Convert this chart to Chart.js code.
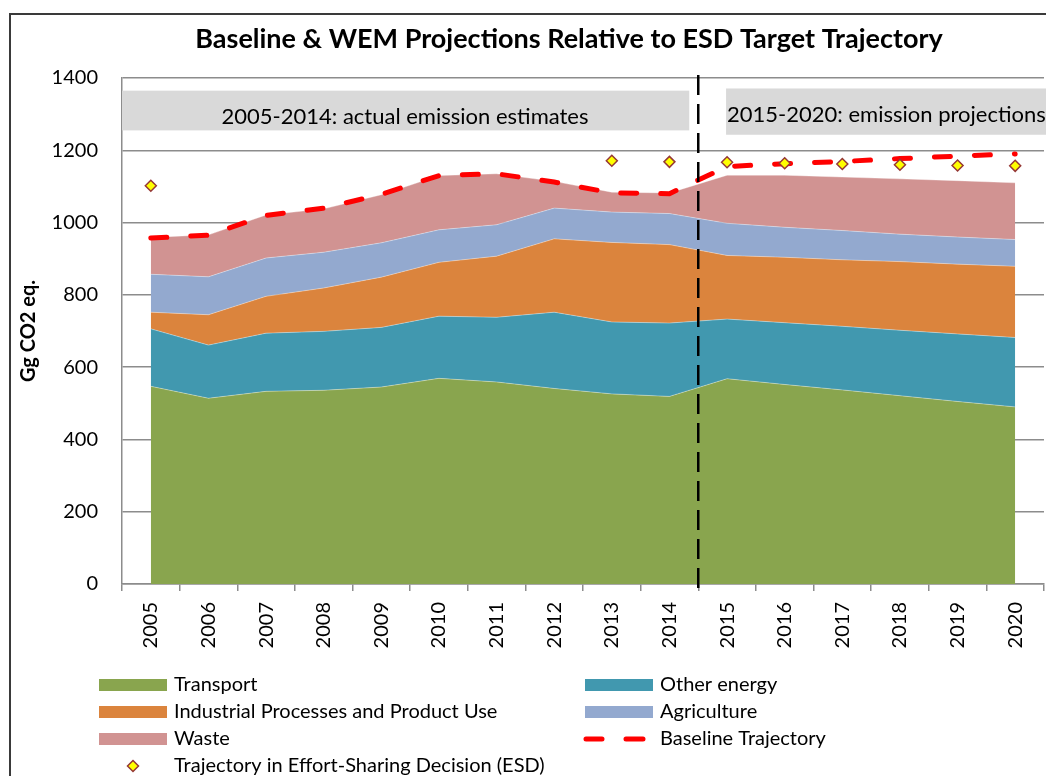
<!DOCTYPE html>
<html>
<head>
<meta charset="utf-8">
<script src="https://cdn.jsdelivr.net/npm/chart.js@4.4.1/dist/chart.umd.min.js"></script>
<style>
  html, body { margin: 0; padding: 0; background: #fff; overflow: hidden; }
  #wrap { width: 1046px; height: 776px; position: relative; }
</style>
</head>
<body>
<div id="wrap"><canvas id="chart"></canvas></div>
<script>
// --- data (Gg CO2 eq.) ---
const years = ['2005', '2006', '2007', '2008', '2009', '2010', '2011', '2012',
  '2013', '2014', '2015', '2016', '2017', '2018', '2019', '2020'];
const transport   = [547, 514, 533, 536, 545, 569, 559, 541, 526, 519, 568, 552, 537, 521, 505, 490];
const otherEnergy = [159, 147, 161, 163, 165, 172, 179, 211, 199, 203, 165, 171, 176, 181, 187, 192];
const industrial  = [46, 84, 102, 120, 139, 149, 169, 203, 220, 217, 176, 181, 184, 190, 193, 197];
const agriculture = [105, 105, 106, 99, 95, 90, 87, 85, 84, 86, 89, 83, 81, 76, 75, 74];
const waste       = [102, 116, 119, 120, 133, 150, 141, 74, 55, 57, 133, 144, 148, 153, 156, 157];
const baseline    = [957, 965, 1020, 1040, 1078, 1130, 1135, 1112, 1082, 1080, 1155, 1163, 1169, 1177, 1184, 1190];
const esdTarget   = [1102, null, null, null, null, null, null, null, 1171, 1168, 1167, 1164, 1162, 1160, 1158, 1157];
const yTicks      = [0, 200, 400, 600, 800, 1000, 1200, 1400];
const periodLabels = ['2005-2014: actual emission estimates', '2015-2020: emission projections'];
const chartTitle = 'Baseline & WEM Projections Relative to ESD Target Trajectory';

const FONT = 'Lato, "Noto Sans", sans-serif';
Chart.defaults.font.family = FONT;
Chart.defaults.color = '#000';

const GRID = '#8c8c8c';

function area(label, data, color, fill) {
  return {
    type: 'line', label, data, fill,
    backgroundColor: color, borderColor: 'rgba(255,255,255,0.35)', borderWidth: 1,
    pointRadius: 0, tension: 0, stack: 'sectors', order: 1,
  };
}

// fondo: marco exterior + título (centrado como en el original, algo a la derecha)
const framePlugin = {
  id: 'frame',
  beforeDraw(chart) {
    const ctx = chart.ctx;
    ctx.save();
    ctx.fillStyle = '#fff';
    ctx.fillRect(0, 0, chart.width, chart.height);
    ctx.strokeStyle = '#3a3a3a';
    ctx.lineWidth = 2;
    ctx.beginPath();
    ctx.moveTo(10, chart.height);
    ctx.lineTo(10, 14);
    ctx.lineTo(chart.width, 14);
    ctx.stroke();
    ctx.fillStyle = '#000';
    ctx.font = 'bold 27px ' + FONT;
    ctx.textAlign = 'center';
    ctx.textBaseline = 'middle';
    ctx.fillText(chartTitle, 569, 39);
    ctx.restore();
  },
};

// cajas grises de periodo + línea divisoria 2014/2015
const periodPlugin = {
  id: 'periods',
  beforeDatasetsDraw(chart) {
    const { ctx, chartArea, scales: { x, y } } = chart;
    const split = (x.getPixelForValue(9) + x.getPixelForValue(10)) / 2;
    ctx.save();
    ctx.fillStyle = '#d9d9d9';
    ctx.fillRect(chartArea.left, y.getPixelForValue(1365), split - 9 - chartArea.left, y.getPixelForValue(1255) - y.getPixelForValue(1365));
    const rx = x.getPixelForValue(10) - 1;
    ctx.fillRect(rx, y.getPixelForValue(1371), chart.width - rx, y.getPixelForValue(1243) - y.getPixelForValue(1371));
    ctx.fillStyle = '#000';
    ctx.font = '22px ' + FONT;
    ctx.textBaseline = 'middle';
    ctx.textAlign = 'center';
    ctx.fillText(periodLabels[0], 405, 117);
    ctx.textAlign = 'left';
    ctx.fillText(periodLabels[1], rx + 1, 115);
    ctx.restore();
  },
  afterDatasetsDraw(chart) {
    const { ctx, scales: { x } } = chart;
    const split = (x.getPixelForValue(9) + x.getPixelForValue(10)) / 2;
    ctx.save();
    ctx.strokeStyle = '#000';
    ctx.lineWidth = 2.5;
    ctx.setLineDash([20, 9]);
    ctx.beginPath();
    ctx.moveTo(split, 75);
    ctx.lineTo(split, 592);
    ctx.stroke();
    ctx.restore();
  },
};

// leyenda en dos columnas
const legendPlugin = {
  id: 'twoColLegend',
  afterDraw(chart) {
    const ctx = chart.ctx;
    const colX = [99, 585];
    const rowY = [685, 712, 739, 766];
    ctx.save();
    ctx.font = '20px ' + FONT;
    ctx.textBaseline = 'middle';
    ctx.textAlign = 'left';
    chart.data.datasets.forEach((ds, i) => {
      const cx = colX[i % 2];
      const cy = rowY[Math.floor(i / 2)];
      if (ds.stack === 'sectors') {
        ctx.fillStyle = ds.backgroundColor;
        ctx.fillRect(cx, cy - 6, 68, 12);
      } else if (ds.showLine === false) {
        ctx.fillStyle = ds.pointBackgroundColor;
        ctx.strokeStyle = ds.pointBorderColor;
        ctx.lineWidth = 1.5;
        ctx.beginPath();
        ctx.moveTo(cx + 34, cy - 5.5); ctx.lineTo(cx + 39.5, cy);
        ctx.lineTo(cx + 34, cy + 5.5); ctx.lineTo(cx + 28.5, cy);
        ctx.closePath(); ctx.fill(); ctx.stroke();
      } else {
        ctx.strokeStyle = ds.borderColor;
        ctx.lineWidth = 5;
        ctx.lineCap = 'round';
        ctx.beginPath();
        ctx.moveTo(cx + 1, cy); ctx.lineTo(cx + 17, cy);
        ctx.moveTo(cx + 41, cy); ctx.lineTo(cx + 58, cy);
        ctx.stroke();
      }
      ctx.fillStyle = '#000';
      ctx.fillText(ds.label, cx + 75, cy);
    });
    ctx.restore();
  },
};

new Chart(document.getElementById('chart'), {
  data: {
    labels: years,
    datasets: [
      area('Transport', transport, '#89a54e', 'origin'),
      area('Other energy', otherEnergy, '#4198af', '-1'),
      area('Industrial Processes and Product Use', industrial, '#db843d', '-1'),
      area('Agriculture', agriculture, '#93a9cf', '-1'),
      area('Waste', waste, '#d19392', '-1'),
      {
        type: 'line', label: 'Baseline Trajectory', data: baseline, stack: 'base', order: -1,
        borderColor: '#ff0000', borderWidth: 5, borderDash: [16, 24], borderCapStyle: 'round',
        fill: false, pointRadius: 0, tension: 0,
      },
      {
        type: 'line', label: 'Trajectory in Effort-Sharing Decision (ESD)', data: esdTarget, stack: 'esd', order: -2,
        showLine: false, fill: false, pointStyle: 'rectRot', pointRadius: 5.5,
        pointBackgroundColor: '#ffff00', pointBorderColor: '#953735', pointBorderWidth: 1.5,
      },
    ],
  },
  options: {
    responsive: true,
    maintainAspectRatio: false,
    animation: false,
    devicePixelRatio: 1,
    layout: { autoPadding: false, padding: { left: 0, right: 2, top: 78, bottom: 112 } },
    plugins: {
      legend: { display: false },
      tooltip: { enabled: false },
      title: { display: false },
    },
    scales: {
      x: {
        type: 'category',
        offset: true,
        grid: { offset: true, drawOnChartArea: false, drawTicks: true, tickLength: 7, color: GRID, lineWidth: 1.5 },
        border: { color: GRID, width: 1.5 },
        ticks: { autoSkip: false, minRotation: 90, maxRotation: 90, padding: 11, font: { size: 20 }, color: '#000' },
        afterFit(scale) { scale.height = 80; scale.paddingLeft = 0; scale.paddingRight = 0; },
      },
      y: {
        stacked: true,
        min: 0, max: 1400,
        afterBuildTicks(scale) { scale.ticks = yTicks.map(v => ({ value: v })); },
        grid: { drawTicks: false, color: GRID, lineWidth: 1.5 },
        border: { color: GRID, width: 1.5 },
        ticks: { padding: 24, font: { size: 20 }, color: '#000', callback: v => String(v) },
        title: {
          display: true, text: 'Gg CO2 eq.', color: '#000',
          font: { size: 20, weight: 'bold', lineHeight: 1.2 },
          padding: { top: 17, bottom: 0 },
        },
        afterFit(scale) { scale.width = 122; scale.paddingTop = 0; scale.paddingBottom = 0; },
      },
    },
  },
  plugins: [framePlugin, periodPlugin, legendPlugin],
});
</script>
</body>
</html>
